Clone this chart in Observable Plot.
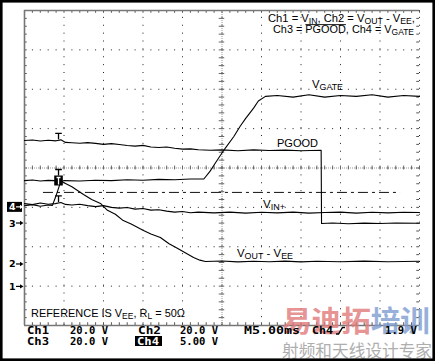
<!DOCTYPE html>
<html><head><meta charset="utf-8">
<script src="https://cdn.jsdelivr.net/npm/d3@7"></script>
<script src="https://cdn.jsdelivr.net/npm/@observablehq/plot@0.6"></script>
<style>html,body{margin:0;padding:0;background:#fff;}</style>
</head><body><div id="chart"></div>
<script>
// ---- scope settings ----
const channels = ["Ch1", "Ch2", "Ch3", "Ch4"];
const voltsPerDiv = [20, 20, 20, 5];
const groundDiv = [0.98, 1.55, 2.59, 3.0];   // channel ground marker, divisions above bottom
const timePerDiv = 5;                         // ms
const divsX = 10, divsY = 8;
const triggerLevel = 1.9;                     // V on Ch4
const triggerTime = 4.37;                     // ms from left edge

// ---- Ch1: VIN+ ----
const ch1Time = [0,1,2,3,3.9,4.6,5.2,6,7,8,9,10,11,12,13,14,15,16,17,18,19,20,21,22,24,26,28,30,32,34,36,38,40,42,44,46,48,50];
const ch1Volts = [42.3,41.8,42.6,42.0,42.3,42.9,41.9,41.6,42.0,41.3,40.8,41.3,40.4,40.0,40.3,39.5,39.8,39.0,39.2,38.5,38.0,38.3,37.7,38.0,37.6,38.0,37.5,37.9,37.6,38.0,37.5,37.8,38.0,37.5,37.9,37.6,37.9,37.8];
// ---- Ch2: VOUT - VEE ----
const ch2Time = [0,1,2,3,3.9,4.6,4.94,6,7.47,8.5,9.62,10.5,11.5,12.5,13.5,15.06,16,17.2,18.3,19.4,20.4,21.4,22.2,22.9,25,27,29,31,33,35,37,40,43,46,50];
const ch2Volts = [42.6,42.9,42.4,42.7,42.6,42.4,41.6,39.5,35.5,33.0,31.0,27.5,25.5,22.3,20.5,17.3,15.5,13.7,10.5,8.1,5.8,3.5,2.2,1.5,1.8,1.3,1.6,1.4,1.7,1.3,1.6,1.4,1.7,1.4,1.6];
// ---- Ch3: PGOOD ----
const ch3Time = [0,1,2,3,4,4.6,5.2,6,7,8,9,10,11,12,13,14,15,16,17,18,19,20,21,22,23.5,25,27,29,31,33,35,37.55,37.6,39,41,43,45,47,50];
const ch3Volts = [42.2,42.4,41.9,42.3,42.0,42.5,41.2,41.0,40.8,41.1,40.7,40.2,40.6,40.1,39.6,39.3,39.7,38.9,38.6,38.9,38.2,37.8,37.9,37.5,37.2,37.4,37.0,37.4,37.1,37.3,37.0,37.2,0,0.3,-0.1,0.2,0,0.3,0.1];
// ---- Ch4: VGATE ----
const ch4Time = [0,1,2,3,3.54,4.0,4.56,5,7,9,11,13,15,17,19,21,22.7,23.5,24.2,25.4,26.5,27.3,28.0,29.0,29.6,30.5,32,34,36,38,40,42,44,46,48,50];
const ch4Volts = [0.2,0.35,0.15,0.3,0.25,1.5,3.2,3.4,3.35,3.45,3.4,3.5,3.45,3.55,3.5,3.6,3.6,4.6,5.7,7.5,9.0,10.3,11.3,12.6,13.5,14.1,14.2,14.0,14.3,14.0,14.2,14.1,14.3,14.0,14.2,14.1];

const times = [ch1Time, ch2Time, ch3Time, ch4Time];
const volts = [ch1Volts, ch2Volts, ch3Volts, ch4Volts];
const traces = [];
channels.forEach((ch, i) => times[i].forEach((t, j) =>
  traces.push({ch, t, div: groundDiv[i] + volts[i][j] / voltsPerDiv[i]})));

const tMax = divsX * timePerDiv;
const fineX = d3.range(0, divsX * 5 + 1).map(k => k * timePerDiv / 5);
const fineY = d3.range(0, divsY * 5 + 1).map(k => k / 5);

const chart = Plot.plot({
  width: 435, height: 361,
  marginLeft: 24, marginRight: 16, marginTop: 10, marginBottom: 36,
  x: {domain: [0, tMax], axis: null},
  y: {domain: [0, divsY], axis: null},
  style: {background: "#fff", overflow: "visible"},
  marks: [
    Plot.ruleY(d3.range(1, divsY), {x1: 0, x2: tMax, stroke: "#222", strokeDasharray: "1,6.9"}),
    Plot.ruleX(d3.range(1, divsX + 1).map(d => d * timePerDiv), {y1: 0, y2: divsY, stroke: "#222", strokeDasharray: "1,6.875"}),
    Plot.ruleY([divsY / 2], {x1: 0, x2: tMax, stroke: "#999", strokeDasharray: "1,1"}),
    Plot.ruleX([tMax / 2], {y1: 0, y2: divsY, stroke: "#999", strokeDasharray: "1,1"}),
    Plot.ruleX(fineX, {y1: divsY / 2 - 0.05, y2: divsY / 2 + 0.05, stroke: "#666"}),
    Plot.ruleY(fineY, {x1: tMax / 2 - 0.35, x2: tMax / 2 + 0.35, stroke: "#666"}),
    Plot.ruleX(fineX, {y1: divsY, y2: divsY - 0.07, stroke: "#555"}),
    Plot.ruleX(fineX, {y1: 0, y2: 0.07, stroke: "#555"}),
    Plot.ruleY(fineY, {x1: 0, x2: 0.35, stroke: "#555"}),
    Plot.ruleY(fineY, {x1: tMax, x2: tMax - 0.35, stroke: "#555"}),
    Plot.ruleY([0, divsY], {x1: 0, x2: tMax, stroke: "#777", strokeWidth: 1.6}),
    Plot.ruleX([0], {y1: 0, y2: divsY, stroke: "#777", strokeWidth: 1.6}),
    Plot.ruleY([groundDiv[3] + triggerLevel / voltsPerDiv[3]], {x1: 2.4, x2: 47.6, stroke: "#111", strokeDasharray: "10,4,3,4"}),
    Plot.line(traces, {x: "t", y: "div", z: "ch", stroke: "#000", strokeWidth: 1.1})
  ]
});
document.getElementById("chart").appendChild(chart);

const svg = d3.select(chart);
const xs = chart.scale("x"), ys = chart.scale("y");
const X = v => xs.apply(v), Y = v => ys.apply(v);

function richText(g, x, y, parts, o = {}) {
  const size = o.size || 10.5;
  const t = g.append("text").attr("x", x).attr("y", y)
    .attr("font-family", o.family || "'Liberation Sans', Arial, sans-serif")
    .attr("font-size", size).attr("font-weight", o.weight || "normal")
    .attr("fill", o.fill || "#000").attr("text-anchor", o.anchor || "start");
  let shift = 0, idx = 0;
  const overs = [];
  parts.forEach(p => {
    const [s, kind, col] = Array.isArray(p) ? p : [p, "n"];
    const ts = t.append("tspan").text(s);
    const target = kind === "sub" ? size * 0.2 : 0;
    if (target !== shift) { ts.attr("dy", target - shift); shift = target; }
    if (kind === "sub") ts.attr("font-size", size * 0.78);
    if (kind === "over") overs.push([idx, idx + s.length - 1]);
    if (col) ts.attr("fill", col);
    idx += s.length;
  });
  if (o.length) t.attr("textLength", o.length).attr("lengthAdjust", "spacingAndGlyphs");
  overs.forEach(([a, b]) => {
    const n = t.node();
    const x0 = n.getStartPositionOfChar(a).x, x1 = n.getEndPositionOfChar(b).x;
    g.append("path").attr("d", `M${x0},${y - size * 0.8}H${x1}`).attr("stroke", o.fill || "#000").attr("stroke-width", 0.9);
  });
  return t;
}

// watermark
const wm = svg.append("g").attr("opacity", 0.8);
richText(wm, 282, 332, [["易迪拓", "n", "#e07a7a"], ["培训", "n", "#7d9dd2"]],
  {size: 29, family: "'Noto Sans CJK SC', sans-serif", weight: "bold", length: 148});
richText(wm, 282, 356.5, ["射频和天线设计专家"],
  {size: 16.5, family: "'Noto Sans CJK SC', sans-serif", fill: "#9a9a9a", length: 150});

// channel ground markers
const mk = svg.append("g");
channels.forEach((ch, i) => {
  const cy = Y(groundDiv[i]);
  if (i === 3) mk.append("rect").attr("x", 7).attr("y", cy - 5).attr("width", 15).attr("height", 10).attr("fill", "#000");
  richText(mk, 9, cy + 3.5, [`${i + 1}`], {size: 9.5, weight: "bold", family: "'DejaVu Sans', sans-serif", fill: i === 3 ? "#fff" : "#000"});
  const col = i === 3 ? "#fff" : "#000";
  mk.append("path").attr("d", `M16,${cy}H22`).attr("stroke", col).attr("stroke-width", 1.2);
  mk.append("path").attr("d", `M20,${cy - 2.2}L23.5,${cy}L20,${cy + 2.2}Z`).attr("fill", col);
});

// trigger markers
const tx = X(triggerTime);
const tmarks = [Y(groundDiv[2] + ch3Volts[5] / voltsPerDiv[2]), Y(groundDiv[1] + ch2Volts[5] / voltsPerDiv[1]) - 5, Y(groundDiv[0] + ch1Volts[5] / voltsPerDiv[0])];
tmarks.forEach(yb => {
  mk.append("path").attr("d", `M${tx - 3.3},${yb - 6}H${tx + 3.3}M${tx},${yb - 6}V${yb}`).attr("stroke", "#000").attr("stroke-width", 1.3);
});
const by = Y(groundDiv[1] + ch2Volts[5] / voltsPerDiv[1]);
mk.append("rect").attr("x", tx - 4.3).attr("y", by - 5).attr("width", 8.6).attr("height", 10).attr("fill", "#000");
mk.append("path").attr("d", `M${tx - 2},${by - 3}H${tx + 2}M${tx},${by - 3}V${by + 4}`).attr("stroke", "#fff").attr("stroke-width", 1.3);

// labels
const lb = svg.append("g");
richText(lb, 268, 21.5, ["Ch1 = V", ["IN", "sub"], ", Ch2 = V", ["OUT", "sub"], " - V", ["EE", "sub"], ","], {length: 147});
richText(lb, 273, 33, ["Ch3 = ", ["PGOOD", "over"], ", Ch4 = V", ["GATE", "sub"]], {length: 141});
richText(lb, 312, 87.5, ["V", ["GATE", "sub"]], {length: 31});
richText(lb, 277, 147, ["PGOOD"], {length: 41});
richText(lb, 263, 208, ["V", ["IN+", "sub"]], {length: 22});
richText(lb, 237, 257, ["V", ["OUT", "sub"], " - V", ["EE", "sub"]], {length: 56});
richText(lb, 31, 317, ["REFERENCE IS V", ["EE", "sub"], ", R", ["L", "sub"], " = 50Ω"], {length: 154});

// status line
const st = svg.append("g");
const mono = {size: 10, weight: "bold", family: "'DejaVu Sans Mono', monospace"};
const scaleLabel = v => `${v.toPrecision(3)} V`;
const row1 = [[channels[0], 27, 22], [scaleLabel(voltsPerDiv[0]), 70, 38], [channels[1], 138, 23], [scaleLabel(voltsPerDiv[1]), 180, 38],
  [`M${timePerDiv.toFixed(2)}ms`, 244, 56], [channels[3], 312, 21], [`${triggerLevel} V`, 385, 32]];
const row2 = [[channels[2], 27, 22], [scaleLabel(voltsPerDiv[2]), 70, 38], [scaleLabel(voltsPerDiv[3]), 180, 38]];
row1.forEach(([s, x, w]) => richText(st, x, 334, [s], {...mono, length: w}));
row2.forEach(([s, x, w]) => richText(st, x, 344.5, [s], {...mono, length: w}));
st.append("rect").attr("x", 135).attr("y", 336).attr("width", 27).attr("height", 10).attr("fill", "#000");
richText(st, 137, 344.5, [channels[3]], {...mono, fill: "#fff", length: 22});
st.append("path").attr("d", "M336,334H338.5L342.5,327.5H345").attr("fill", "none").attr("stroke", "#000").attr("stroke-width", 1.4);

// outer border
svg.append("rect").attr("x", 1.3).attr("y", 1.3).attr("width", 432.4).attr("height", 358.4)
  .attr("fill", "none").attr("stroke", "#000").attr("stroke-width", 2.6);
</script>
</body></html>
